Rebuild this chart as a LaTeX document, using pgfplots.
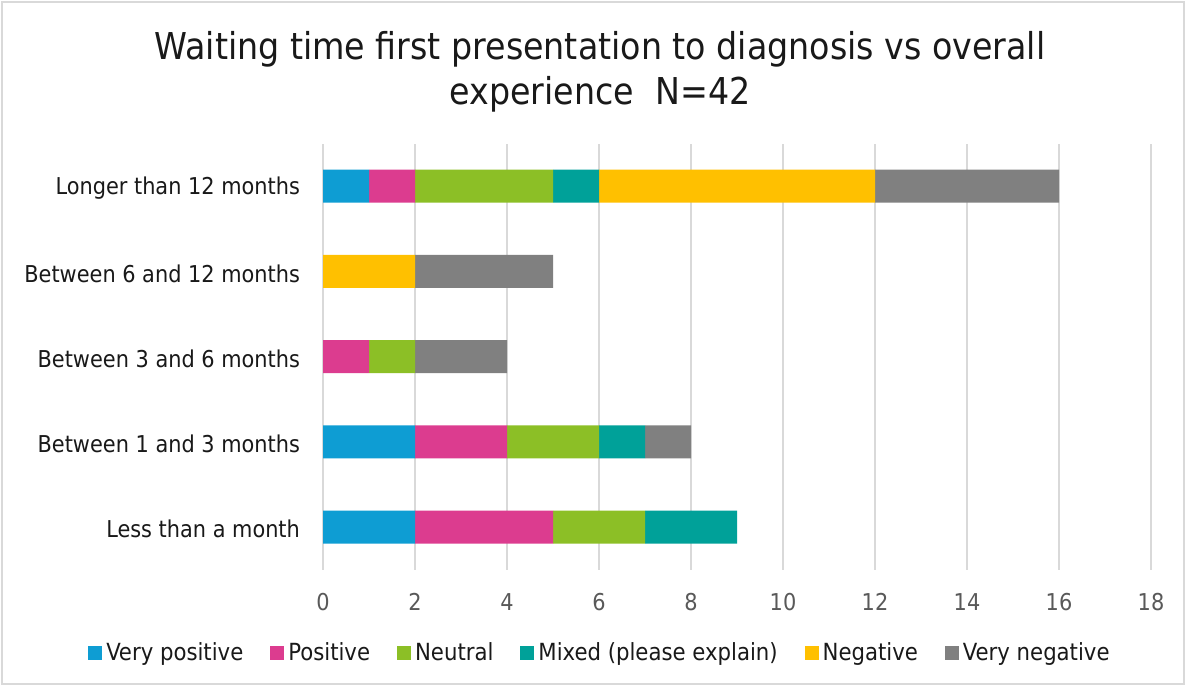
\documentclass[border=0pt]{standalone}
\usepackage{pgfplots}
\pgfplotsset{compat=1.18}
\usepackage{fontspec}
\setmainfont{DejaVu Sans Condensed}
\definecolor{cVP}{HTML}{0E9DD3}
\definecolor{cP}{HTML}{DC3C8F}
\definecolor{cN}{HTML}{8CBF26}
\definecolor{cM}{HTML}{00A199}
\definecolor{cNeg}{HTML}{FFC000}
\definecolor{cVN}{HTML}{808080}
\begin{document}
\begin{tikzpicture}
\fill[white] (0pt,0pt) rectangle (593pt,343pt);
\draw[gray!30, line width=0.8pt] (1pt,1pt) rectangle (592pt,342pt);
\node[align=center, font=\fontsize{18.5}{22.5}\selectfont, text=black!90] at (300pt,307.3pt) {Waiting time first presentation to diagnosis vs overall\\experience\ \ N=42};
\begin{axis}[
  at={(161.5pt,58.2pt)}, anchor=south west,
  scale only axis, width=414pt, height=213pt,
  xbar stacked, bar width=16.5pt,
  xmin=0, xmax=18, ymin=-0.5, ymax=4.5,
  xtick={0,2,...,18}, ytick={0,1,2,3,4},
  yticklabels={Less than a month,Between 1 and 3 months,Between 3 and 6 months,Between 6 and 12 months,Longer than 12 months},
  axis line style={draw=none}, major tick style={draw=none},
  xmajorgrids, grid style={gray!30, line width=0.8pt},
  /pgf/number format/assume math mode=true,
  tick label style={font=\fontsize{11.6}{13}\selectfont},
  xticklabel style={text=black!65, yshift=-8.5pt},
  yticklabel style={text=black!90, xshift=-8pt, yshift=-1pt},
  legend columns=6,
  legend style={draw=none, fill=none, at={(0.3357,-0.1958)}, anchor=center, font=\fontsize{11.8}{13}\selectfont, text=black!90,
    /tikz/every even column/.append style={column sep=11.5pt}},
  legend image code/.code={\fill[#1] (0pt,-3.5pt) rectangle (7pt,3.5pt);},
]
\addplot[fill=cVP, draw=none] coordinates {(2,0) (2,1) (0,2) (0,3) (1,4)};
\addplot[fill=cP, draw=none] coordinates {(3,0) (2,1) (1,2) (0,3) (1,4)};
\addplot[fill=cN, draw=none] coordinates {(2,0) (2,1) (1,2) (0,3) (3,4)};
\addplot[fill=cM, draw=none] coordinates {(2,0) (1,1) (0,2) (0,3) (1,4)};
\addplot[fill=cNeg, draw=none] coordinates {(0,0) (0,1) (0,2) (2,3) (6,4)};
\addplot[fill=cVN, draw=none] coordinates {(0,0) (1,1) (2,2) (3,3) (4,4)};
\legend{Very positive,Positive,Neutral,Mixed (please explain),Negative,Very negative}
\end{axis}
\end{tikzpicture}
\end{document}
